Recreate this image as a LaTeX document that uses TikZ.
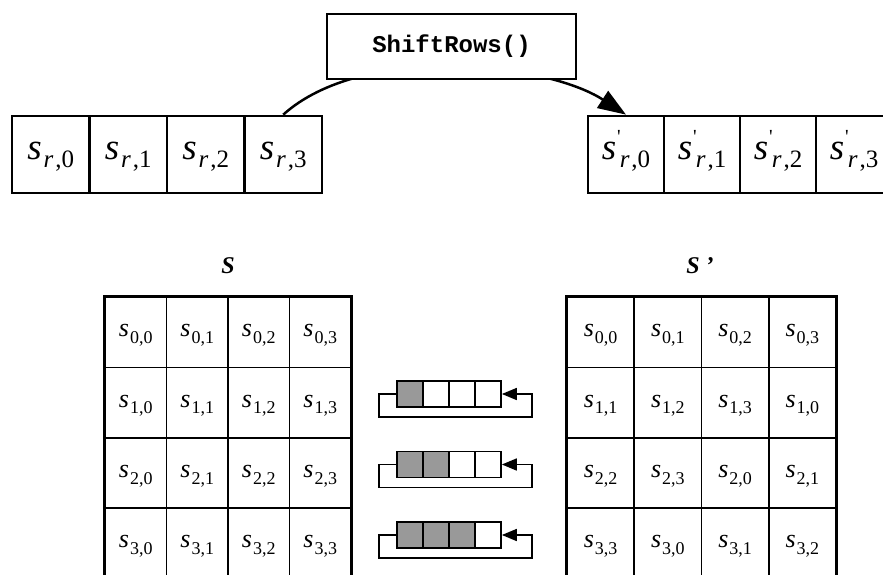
\documentclass[tikz,border=0pt]{standalone}
\usepackage{fontspec}
\setmainfont{Liberation Serif}[BoldFont={* Bold}, ItalicFont={* Italic}, BoldItalicFont={* Bold Italic}]
\newfontfamily\codefont{Liberation Mono}
\usetikzlibrary{arrows.meta,calc}
\definecolor{regfill}{HTML}{999999}
\newcommand\rowtxt[1]{{\fontsize{37}{38}\selectfont\itshape s}\kern2pt\raisebox{-8pt}{\fontsize{25}{27}\selectfont{\itshape r}\kern2pt,#1}}
\newcommand\rowtxtp[1]{{\fontsize{37}{38}\selectfont\itshape s}\kern1pt\raisebox{17pt}{\fontsize{20}{20}\selectfont\textquotesingle}\kern-1pt\raisebox{-8pt}{\fontsize{25}{27}\selectfont{\itshape r}\kern2pt,#1}}
\newcommand\gtxt[1]{{\fontsize{26}{28}\selectfont\itshape s}\kern1pt\raisebox{-6.5pt}{\fontsize{18}{20}\selectfont #1}}
\tikzset{
  rowcell/.style={draw, line width=2.7pt, minimum height=77pt, inner sep=0pt, text height=19pt, text depth=8pt},
  opbox/.style={draw, line width=2.7pt, fill=white, minimum width=249pt, minimum height=65pt, inner sep=0pt},
  gcell/.style={draw, line width=1.8pt, minimum height=70.4pt, inner sep=0pt, text height=17pt, text depth=8pt},
  gborder/.style={line width=3pt},
  regcell/.style={draw, line width=1.7pt, minimum width=26pt, minimum height=26pt, inner sep=0pt},
  regloop/.style={line width=1.7pt, -{Triangle[length=15pt,width=12pt]}},
  arcline/.style={line width=2.5pt, -{Triangle[length=28pt,width=20pt]}},
  lbl/.style={inner sep=0pt, font=\fontsize{24}{26}\selectfont\bfseries\itshape}
}
\begin{document}
\begin{tikzpicture}[x=1pt,y=-1pt]
\useasboundingbox (0,0) rectangle (883,575);
\clip (0,0) rectangle (883,575);
\fill[white] (0,0) rectangle (883,575);
% top rows
\foreach \j in {0,1,2,3}{
  \node[rowcell, minimum width=77.5pt] (L\j) at ({50.75+77.5*\j},154.5) {\rowtxt{\j}};
  \node[rowcell, minimum width=76pt] (R\j) at ({626+76*\j},154.5) {\rowtxtp{\j}};
}
\draw[arcline] (L3.north) .. controls +(80,-72) and +(-80,-52) .. (R0.north);
\node[opbox] (op) at (451.5,46.5) {\codefont\bfseries\fontsize{24}{26}\selectfont ShiftRows()};
% labels
\node[lbl] (lblS) at (228,266) {S};
\node[lbl] (lblSp) at (700,266) {S ’};
% grids
\foreach \i in {0,1,2,3}{
  \foreach \j in {0,1,2,3}{
    \pgfmathtruncatemacro{\k}{mod(\j+\i,4)}
    \node[gcell, minimum width=61.5pt] (A\i\j) at ({105+61.5*\j+30.75},{297+70.4*\i+35.2}) {\gtxt{\i,\j}};
    \node[gcell, minimum width=67.25pt] (B\i\j) at ({567+67.25*\j+33.625},{297+70.4*\i+35.2}) {\gtxt{\i,\k}};
  }
}
\draw[gborder] (A00.north west) rectangle (A33.south east);
\draw[gborder] (B00.north west) rectangle (B33.south east);
% shift registers
\foreach \r/\y in {1/394,2/464.5,3/535}{
  \foreach \c in {0,1,2,3}{
    \ifnum\c<\r
      \node[regcell, fill=regfill] (S\r\c) at ({410+26*\c},\y) {};
    \else
      \node[regcell, fill=white] (S\r\c) at ({410+26*\c},\y) {};
    \fi
  }
  \draw[regloop] (S\r0.west) -- ++(-17,0) -- ++(0,23) -| ($(S\r3.east)+(30,0)$) -- (S\r3.east);
}
\end{tikzpicture}
\end{document}
